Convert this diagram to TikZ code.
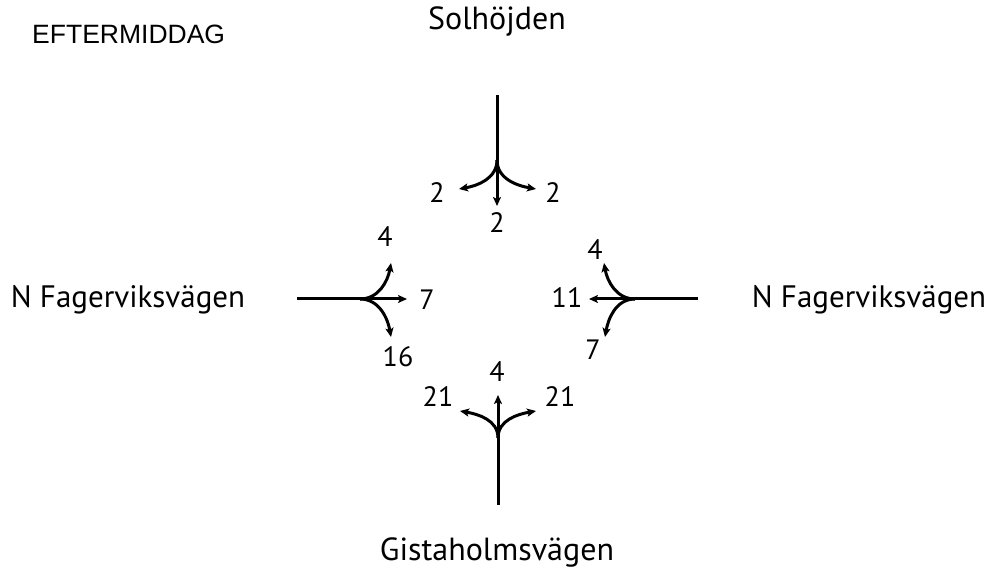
\documentclass[tikz,border=0pt]{standalone}
\usepackage{fontspec}
\setmainfont{PT Sans}
\newfontfamily\headfont{Liberation Sans}
\usetikzlibrary{arrows.meta}
\begin{document}
\begin{tikzpicture}[x=1pt, y=1pt,
  road/.style={line width=3pt},
  turn/.style={line width=3pt, -{Stealth[length=9pt, width=8pt, inset=2pt]}},
  count/.style={font=\fontsize{28}{28}\selectfont, inner sep=0pt},
  street/.style={font=\fontsize{32}{32}\selectfont, inner sep=0pt}]
\useasboundingbox (0,0) rectangle (1002,581);
% Headline and street names
\node[font=\headfont\fontsize{26.5}{26.5}\selectfont, anchor=west, inner sep=0pt] (title) at (32,547) {EFTERMIDDAG};
\node[street] (northname) at (497,559) {Solhöjden};
\node[street] (southname) at (497,28) {Gistaholmsvägen};
\node[street, font=\fontsize{31}{31}\selectfont] (westname) at (128,281) {N Fagerviksvägen};
\node[street, font=\fontsize{31}{31}\selectfont] (eastname) at (869,281) {N Fagerviksvägen};
% Junction points and arrow ends
\coordinate (nstart) at (497,486);
\coordinate (nj) at (497,421);
\coordinate (nstraight) at (497,375);
\coordinate (nleft) at (459,392);
\coordinate (nright) at (536,392);
\coordinate (wstart) at (297,282);
\coordinate (wj) at (360,282);
\coordinate (wstraight) at (407,282);
\coordinate (wleft) at (391,318);
\coordinate (wright) at (391,244);
\coordinate (estart) at (698,282);
\coordinate (ej) at (635,282);
\coordinate (estraight) at (589,282);
\coordinate (eright) at (604,318);
\coordinate (eleft) at (605,244);
\coordinate (sstart) at (498,76);
\coordinate (sj) at (498,143);
\coordinate (sstraight) at (498,186);
\coordinate (sleft) at (460,170);
\coordinate (sright) at (536,170);
% North approach
\draw[road] (nstart) -- (nj);
\draw[turn] (nj) -- (nstraight);
\draw[turn] (nj) to[out=-90, in=10] (nleft);
\draw[turn] (nj) to[out=-90, in=170] (nright);
\node[count] (nleftval) at (437,388) {2};
\node[count] (nrightval) at (553,388) {2};
\node[count] (nstraightval) at (497,358) {2};
% West approach
\draw[road] (wstart) -- (wj);
\draw[turn] (wj) -- (wstraight);
\draw[turn] (wj) to[out=0, in=-100] (wleft);
\draw[turn] (wj) to[out=0, in=100] (wright);
\node[count] (wstraightval) at (427,281) {7};
\node[count] (wleftval) at (385,344) {4};
\node[count] (wrightval) at (398,224) {16};
% East approach
\draw[road] (estart) -- (ej);
\draw[turn] (ej) -- (estraight);
\draw[turn] (ej) to[out=180, in=-80] (eright);
\draw[turn] (ej) to[out=180, in=80] (eleft);
\node[count] (estraightval) at (567,283) {11};
\node[count] (erightval) at (595,331) {4};
\node[count] (eleftval) at (593,231) {7};
% South approach
\draw[road] (sstart) -- (sj);
\draw[turn] (sj) -- (sstraight);
\draw[turn] (sj) to[out=90, in=-10] (sleft);
\draw[turn] (sj) to[out=90, in=190] (sright);
\node[count] (sstraightval) at (497,209) {4};
\node[count] (sleftval) at (438,184) {21};
\node[count] (srightval) at (560,184) {21};
\end{tikzpicture}
\end{document}
